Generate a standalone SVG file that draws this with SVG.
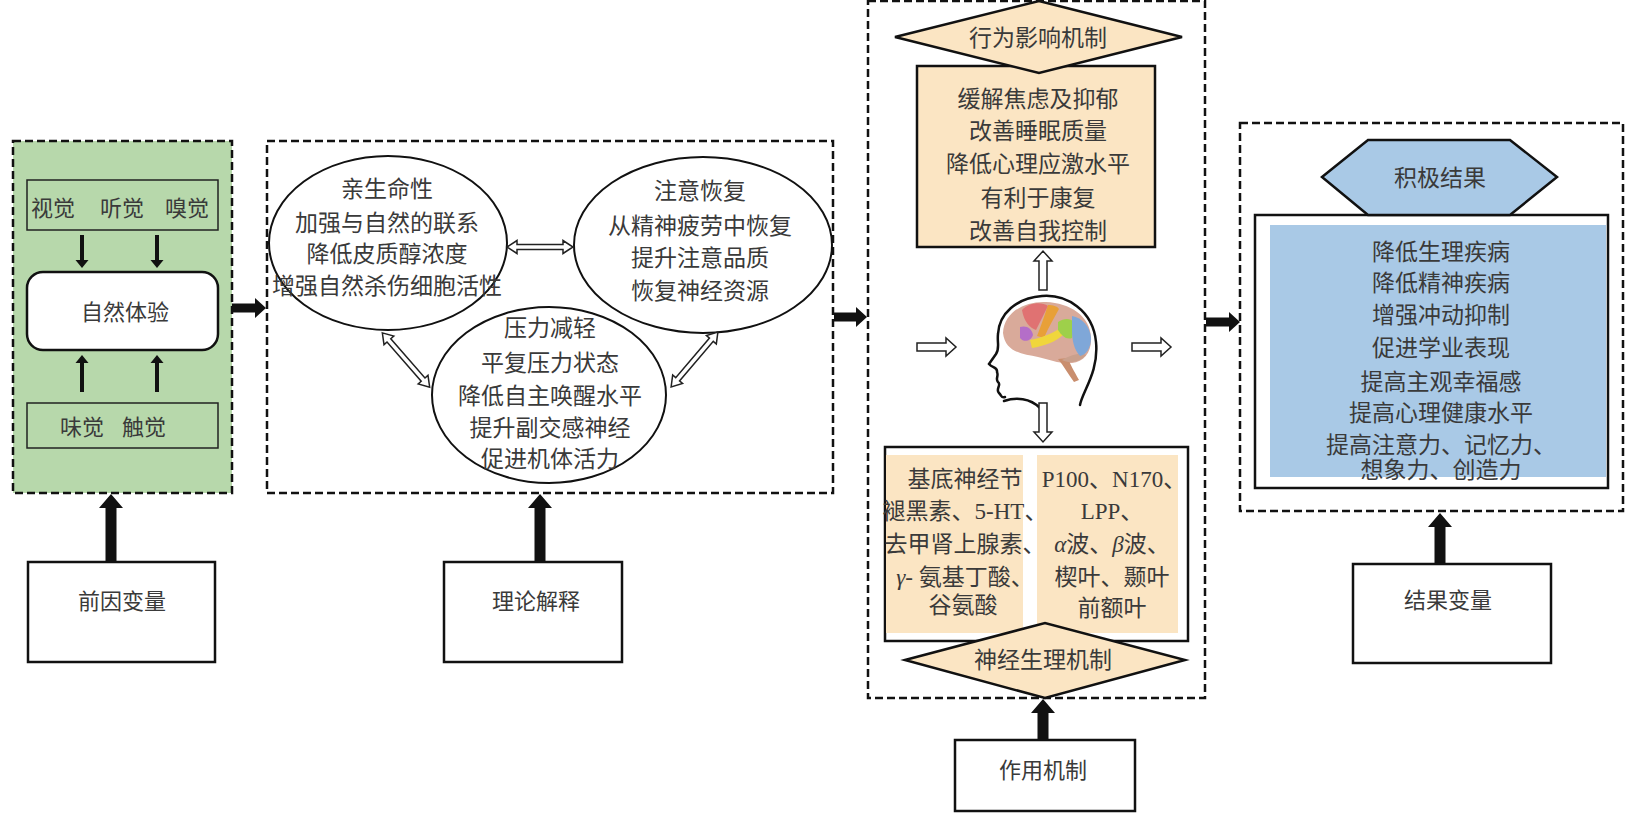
<svg xmlns="http://www.w3.org/2000/svg" width="1632" height="816" viewBox="0 0 1632 816">
<style>
.t{font-family:"Liberation Serif","Noto Sans CJK SC",serif;font-size:23px;fill:#3a3a3a;text-anchor:middle}
.s{font-size:22px}
.dash{fill:none;stroke:#111;stroke-width:2.5;stroke-dasharray:8 4}
.box{fill:#fff;stroke:#111;stroke-width:2.5}
.ell{fill:none;stroke:#111;stroke-width:2}
.blk{fill:#111}
.hol{fill:#fff;stroke:#222;stroke-width:1.5}
.yel{fill:#fbe5c3}
.i{font-style:italic}
</style>
<defs>
<path id="ha" d="M0 -4 H29 V-9 L39 0 L29 9 V4 H0 Z"/>
<path id="da66" d="M-33 0 L-23 -6.5 V-2.5 H23 V-6.5 L33 0 L23 6.5 V2.5 H-23 V6.5 Z"/>
<path id="da72" d="M-36 0 L-26 -6.5 V-2.5 H26 V-6.5 L36 0 L26 6.5 V2.5 H-26 V6.5 Z"/>
</defs>
<rect width="1632" height="816" fill="#fff"/>

<g id="antecedent-panel">
<rect x="13" y="141" width="219" height="352" fill="#b7d8ab" stroke="#111" stroke-width="2.5" stroke-dasharray="8 4"/>
<rect x="27" y="180" width="191" height="50" fill="#b7d8ab" stroke="#222" stroke-width="1.5"/>
<text class="t s" x="53" y="216">视觉</text>
<text class="t s" x="122" y="216">听觉</text>
<text class="t s" x="187" y="216">嗅觉</text>
<rect x="27" y="272" width="191" height="78" rx="16" fill="#fff" stroke="#111" stroke-width="2.5"/>
<text class="t s" x="125" y="320">自然体验</text>
<rect x="27" y="403" width="191" height="45" fill="#b7d8ab" stroke="#222" stroke-width="1.5"/>
<text class="t s" x="82" y="435">味觉</text>
<text class="t s" x="144" y="435">触觉</text>
</g>

<g id="theory-panel">
<rect class="dash" x="267" y="141" width="566" height="352"/>
<g id="biophilia">
<ellipse class="ell" cx="388" cy="243" rx="119" ry="87"/>
<text class="t" x="387" y="197">亲生命性</text>
<text class="t" x="387" y="231">加强与自然的联系</text>
<text class="t" x="387" y="262">降低皮质醇浓度</text>
<text class="t" x="387" y="294">增强自然杀伤细胞活性</text>
</g>
<g id="attention-restoration">
<ellipse class="ell" cx="703" cy="245" rx="129" ry="88"/>
<text class="t" x="700" y="199">注意恢复</text>
<text class="t" x="700" y="234">从精神疲劳中恢复</text>
<text class="t" x="700" y="266">提升注意品质</text>
<text class="t" x="700" y="299">恢复神经资源</text>
</g>
<g id="stress-reduction">
<ellipse class="ell" cx="549" cy="395" rx="117" ry="88"/>
<text class="t" x="550" y="336">压力减轻</text>
<text class="t" x="550" y="371">平复压力状态</text>
<text class="t" x="550" y="404">降低自主唤醒水平</text>
<text class="t" x="550" y="436">提升副交感神经</text>
<text class="t" x="550" y="467">促进机体活力</text>
</g>
</g>

<g id="mechanism-panel">
<rect class="dash" x="868" y="1" width="337" height="697"/>
<g id="behavior-box">
<rect x="917" y="66" width="238" height="181" fill="#fbe5c3" stroke="#111" stroke-width="2.5"/>
<text class="t" x="1038" y="107">缓解焦虑及抑郁</text>
<text class="t" x="1038" y="139">改善睡眠质量</text>
<text class="t" x="1038" y="172">降低心理应激水平</text>
<text class="t" x="1038" y="206">有利于康复</text>
<text class="t" x="1038" y="239">改善自我控制</text>
</g>
<g id="behavior-diamond">
<polygon points="895,37 1039,1 1182,37 1039,73" fill="#fbe5c3" stroke="#111" stroke-width="2.5"/>
<text class="t" x="1038" y="46">行为影响机制</text>
</g>
<g id="brain">
<path d="M1003 333 C1004 312 1025 301 1046 302 C1070 303 1090 316 1091 337 C1092 352 1084 362 1072 363 C1060 364 1050 360 1038 357 C1022 354 1005 352 1003 333 Z" fill="#d9aa9a"/>
<path d="M1058 359 C1064 366 1068 374 1074 382 L1079 380 C1074 371 1070 364 1068 358 Z" fill="#c98e6e"/>
<path d="M1062 360 C1070 364 1080 362 1086 355 C1082 352 1070 355 1062 360 Z" fill="#caa08c"/>
<path d="M1022 310 C1030 302 1042 302 1048 306 C1044 314 1040 322 1036 330 C1030 328 1024 322 1022 310 Z" fill="#e07272"/>
<path d="M1048 305 C1053 305 1057 306 1059 309 C1054 318 1048 328 1044 338 L1037 336 C1041 326 1045 314 1048 305 Z" fill="#e8a038"/>
<path d="M1020 327 C1026 325 1032 328 1033 335 C1031 341 1024 343 1020 338 Z" fill="#b46ec8"/>
<path d="M1030 340 C1040 338 1052 334 1060 328 L1064 334 C1056 342 1044 346 1032 348 Z" fill="#f0d63c"/>
<path d="M1058 322 C1064 318 1070 318 1074 322 L1072 338 C1066 340 1062 336 1058 330 Z" fill="#9ed04a"/>
<path d="M1072 316 C1082 318 1090 326 1091 338 C1091 348 1086 355 1080 356 C1074 350 1072 340 1072 330 Z" fill="#7fa7d8"/>
<path d="M1080 405 C1082 392 1099 372 1096 342 C1093 310 1066 294 1042 296 C1016 298 999 314 998 334 C997 343 1000 348 996 354 L989 364 C992 368 998 367 997 372 C999 376 995 379 998 382 C1002 385 995 389 999 393 C1002 396 1001 398 1005 397" fill="none" stroke="#111" stroke-width="2.5" stroke-linecap="round"/>
<path d="M1004 401 C1016 397 1030 398 1040 408" fill="none" stroke="#111" stroke-width="2.5" stroke-linecap="round"/>
</g>
<g id="neuro-box">
<rect class="box" x="885" y="447" width="303" height="194"/>
<rect class="yel" x="886" y="455" width="137" height="178"/>
<rect class="yel" x="1037" y="455" width="141" height="178"/>
<text class="t" x="965" y="487">基底神经节</text>
<text class="t" x="965" y="519">褪黑素、5-HT、</text>
<text class="t" x="965" y="552">去甲肾上腺素、</text>
<text class="t" x="965" y="585"><tspan class="i">γ</tspan>- 氨基丁酸、</text>
<text class="t" x="963" y="613">谷氨酸</text>
<text class="t" x="1114" y="487">P100、N170、</text>
<text class="t" x="1112" y="519">LPP、</text>
<text class="t" x="1112" y="552"><tspan class="i">α</tspan>波、<tspan class="i">β</tspan>波、</text>
<text class="t" x="1112" y="585">楔叶、颞叶</text>
<text class="t" x="1112" y="616">前额叶</text>
</g>
<g id="neuro-diamond">
<polygon points="905,660 1045,623 1185,660 1045,698" fill="#fbe5c3" stroke="#111" stroke-width="2.5"/>
<text class="t" x="1043" y="668">神经生理机制</text>
</g>
</g>

<g id="outcome-panel">
<rect class="dash" x="1240" y="123" width="383" height="388"/>
<rect class="box" x="1255" y="215" width="353" height="273"/>
<rect x="1270" y="225" width="336" height="252" fill="#a9c9e6"/>
<g id="positive-hexagon">
<polygon points="1322,177 1368,140 1510,140 1557,177 1510,215 1368,215" fill="#a9c9e6" stroke="#111" stroke-width="2.5"/>
<text class="t" x="1440" y="186">积极结果</text>
</g>
<text class="t" x="1441" y="260">降低生理疾病</text>
<text class="t" x="1441" y="291">降低精神疾病</text>
<text class="t" x="1441" y="323">增强冲动抑制</text>
<text class="t" x="1441" y="356">促进学业表现</text>
<text class="t" x="1441" y="390">提高主观幸福感</text>
<text class="t" x="1441" y="421">提高心理健康水平</text>
<text class="t" x="1441" y="453">提高注意力、记忆力、</text>
<text class="t" x="1441" y="478">想象力、创造力</text>
</g>

<g id="label-antecedent">
<rect class="box" x="28" y="562" width="187" height="100"/>
<text class="t s" x="122" y="609">前因变量</text>
</g>
<g id="label-theory">
<rect class="box" x="444" y="562" width="178" height="100"/>
<text class="t s" x="536" y="609">理论解释</text>
</g>
<g id="label-mechanism">
<rect class="box" x="955" y="740" width="180" height="71"/>
<text class="t s" x="1043" y="778">作用机制</text>
</g>
<g id="label-outcome">
<rect class="box" x="1353" y="564" width="198" height="99"/>
<text class="t s" x="1448" y="608">结果变量</text>
</g>

<g id="connectors">
<path class="blk" d="M80 235 V260 H75.5 L82 268 L88.5 260 H84 V235 Z"/>
<path class="blk" d="M155 235 V260 H150.5 L157 268 L163.5 260 H159 V235 Z"/>
<path class="blk" d="M80 392 V363 H75.5 L82 355 L88.5 363 H84 V392 Z"/>
<path class="blk" d="M155 392 V363 H150.5 L157 355 L163.5 363 H159 V392 Z"/>
<path class="blk" d="M232 303.5 H255 V298 L266 308 L255 318 V312.5 H232 Z"/>
<path class="blk" d="M834 312.5 H856 V307 L867 317 L856 327 V321.5 H834 Z"/>
<path class="blk" d="M1206 317.5 H1229 V312 L1240 322 L1229 332 V326.5 H1206 Z"/>
<path class="blk" d="M105.5 562 V508 H99 L111 494 L123 508 H116.5 V562 Z"/>
<path class="blk" d="M534.5 562 V508 H528 L540 494 L552 508 H545.5 V562 Z"/>
<path class="blk" d="M1037.5 740 V713 H1031 L1043 699 L1055 713 H1048.5 V740 Z"/>
<path class="blk" d="M1434.5 564 V527 H1428 L1440 513 L1452 527 H1445.5 V564 Z"/>
<use href="#da66" class="hol" transform="translate(540,247)"/>
<use href="#da72" class="hol" transform="translate(406,360) rotate(48.9)"/>
<use href="#da72" class="hol" transform="translate(694.5,359.5) rotate(130.5)"/>
<use href="#ha" class="hol" transform="translate(1043,290) rotate(-90)"/>
<use href="#ha" class="hol" transform="translate(1043,403) rotate(90)"/>
<use href="#ha" class="hol" transform="translate(917,347)"/>
<use href="#ha" class="hol" transform="translate(1132,347)"/>
</g>
</svg>
